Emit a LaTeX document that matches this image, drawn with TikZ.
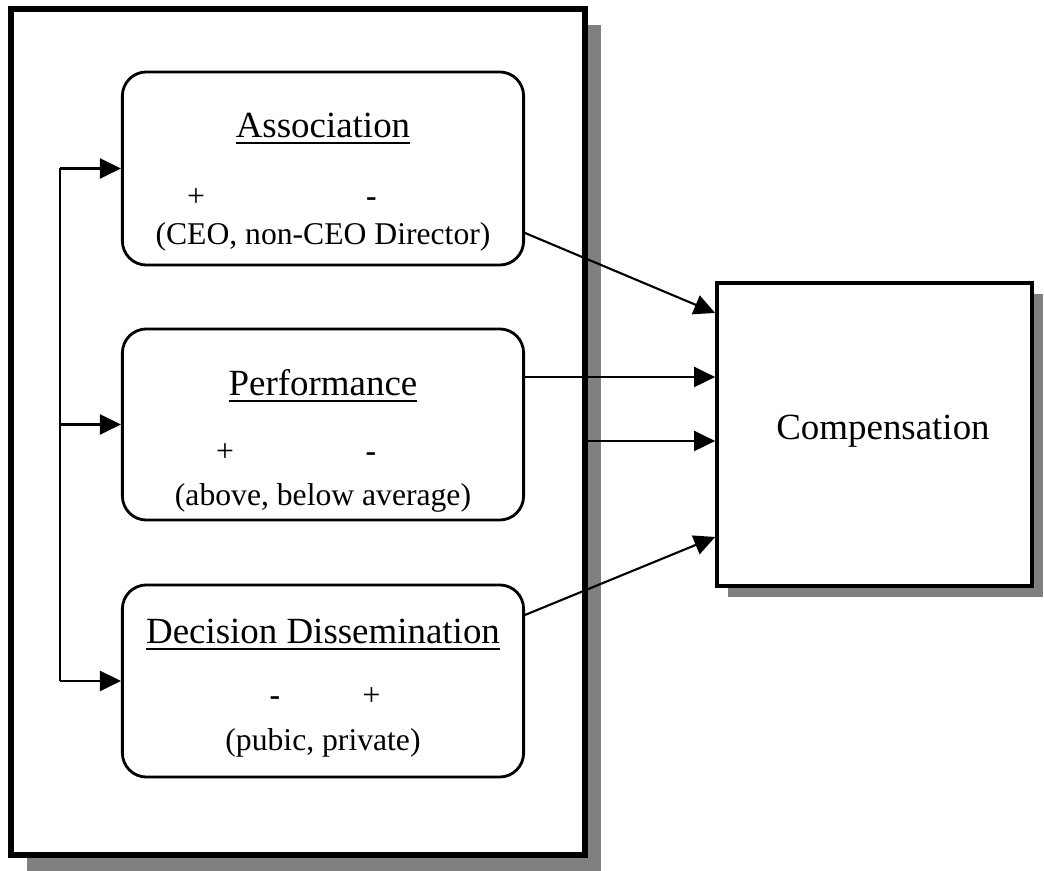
\documentclass[tikz,border=0pt]{standalone}
\usepackage{fontspec}
\setmainfont{Liberation Serif}
\usetikzlibrary{arrows.meta,calc,shadows}

\begin{document}
\begin{tikzpicture}[x=0.01cm,y=-0.01cm,
  font=\fontsize{10.5}{12.6}\selectfont,
  factorbox/.style={draw,line width=0.8pt,rounded corners=0.24cm,minimum width=4.01cm,minimum height=1.93cm,inner sep=0pt},
  graybox/.style={fill=white,drop shadow={shadow xshift=#1,shadow yshift=-#1,opacity=1,fill=black!50}},
  title/.style={anchor=base},
  note/.style={anchor=base,font=\fontsize{9}{10.8}\selectfont},
  link/.style={line width=0.6pt},
  arrow/.style={line width=0.6pt,-{Triangle[length=0.21cm,width=0.2cm]}}]
\useasboundingbox (0,0) rectangle (1044,871);

\node[graybox=0.16cm,draw,line width=1.8pt,minimum width=5.735cm,minimum height=8.455cm,inner sep=0pt] (frame) at (298,432) {};

\node[factorbox] (assoc) at (323,168.5) {};
\node[title] (assoc-title) at ($(assoc.north)+(0,67)$) {\underline{Association}};
\node[note] (assoc-plus) at (196,207) {+};
\node[note] (assoc-minus) at (371.5,207) {\textbf{-}};
\node[note] (assoc-pair) at ($(assoc.north)+(0,174)$) {(CEO, non-CEO Director)};

\node[factorbox,minimum height=1.91cm] (perf) at (323,424.5) {};
\node[title] (perf-title) at ($(perf.north)+(0,68)$) {\underline{Performance}};
\node[note] (perf-plus) at (225,462) {+};
\node[note] (perf-minus) at (371,462) {\textbf{-}};
\node[note] (perf-pair) at ($(perf.north)+(0,178)$) {(above, below average)};

\node[factorbox,minimum height=1.92cm] (decis) at (323,681) {};
\node[title] (decis-title) at ($(decis.north)+(0,60)$) {\underline{Decision Dissemination}};
\node[note] (decis-minus) at (275,706) {\textbf{-}};
\node[note] (decis-plus) at (371.5,706) {+};
\node[note] (decis-pair) at ($(decis.north)+(0,167)$) {(pubic, private)};

\node[graybox=0.11cm,draw,line width=1pt,minimum width=3.15cm,minimum height=3.03cm,inner sep=0pt] (comp) at (874.5,434.5) {};
\node[title] (comp-text) at (883,440) {Compensation};

% left spine feeding the three factors
\coordinate (spine) at (60,0);
\draw[link] (spine |- assoc.west) -- (spine |- decis.west);
\foreach \name in {assoc,perf,decis}
  \draw[arrow] (spine |- \name.west) -- (\name.west);

\draw[arrow] ($(assoc.east)+(0,64.5)$) -- ($(comp.west)+(0,-121.5)$);
\coordinate (perf-out) at ($(perf.east)+(0,-47.5)$);
\draw[arrow] (perf-out) -- (perf-out -| comp.west);
\coordinate (frame-out) at ($(comp.west)+(0,6.5)$);
\draw[arrow] (frame-out -| frame.east) -- (frame-out);
\draw[arrow] ($(decis.east)+(0,-66)$) -- ($(comp.west)+(0,102.5)$);
\end{tikzpicture}
\end{document}
